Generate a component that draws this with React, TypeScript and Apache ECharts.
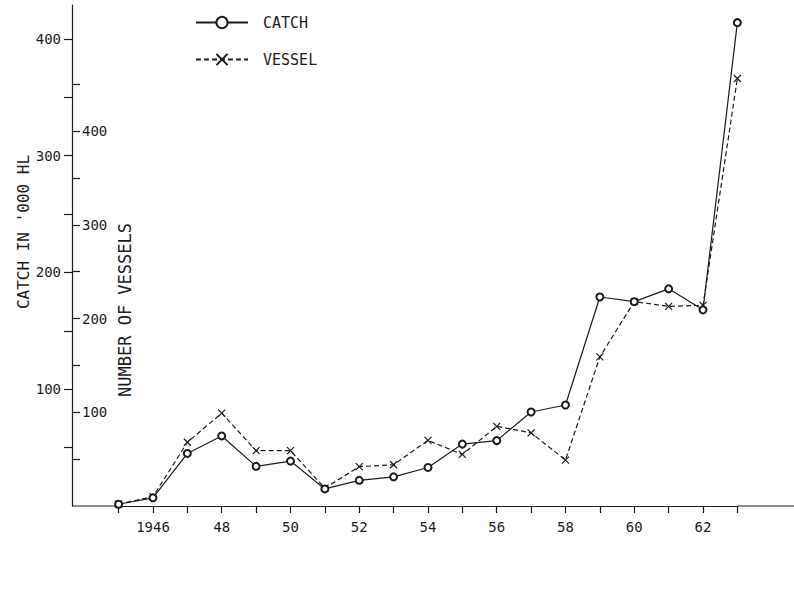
import React, { useEffect, useRef } from "react";
import * as echarts from "echarts";

const years = [1945, 1946, 1947, 1948, 1949, 1950, 1951, 1952, 1953, 1954, 1955, 1956, 1957, 1958, 1959, 1960, 1961, 1962, 1963];
const catchValues = [1.5, 7, 45, 60, 34, 38.5, 14.6, 22, 25, 33, 53, 56, 80.5, 86.5, 179, 175, 186, 168, 414];
const vesselValues = [2, 10, 68, 99, 59, 59, 19, 42, 44, 70, 55, 85, 78, 49, 159, 218, 213, 214, 456];

const xLabelValues = [1946, 1948, 1950, 1952, 1954, 1956, 1958, 1960, 1962];
const catchTicks = [50, 100, 150, 200, 250, 300, 350, 400];
const catchLabels = [100, 200, 300, 400];
const vesselTicks = [50, 100, 150, 200, 250, 300, 350, 400, 450];
const vesselLabels = [100, 200, 300, 400];

const INK = "#1c1c1c";
const FONT = "DejaVu Sans Mono";
// the original x axis runs a little past both ends of the 1945–1963 range drawn by the grid
const AXIS_X0 = 72;
const YEAR_PX = 34.375;
const X_MIN = 1945;
const X_MAX = 1963;
const PRE = (X_MIN - 1943.644) * YEAR_PX;
const GRID_RIGHT_EDGE = AXIS_X0 + PRE + (X_MAX - X_MIN) * YEAR_PX;

export default function App() {
  const ref = useRef<HTMLDivElement>(null);
  useEffect(() => {
    if (!ref.current) return;
    const chart = echarts.init(ref.current, null, { renderer: "svg" });
    chart.setOption({
      animation: false,
      backgroundColor: "#ffffff",
      textStyle: { fontFamily: FONT, color: INK },
      grid: { left: AXIS_X0 + PRE, right: 794 - GRID_RIGHT_EDGE, top: 5, bottom: 85 },
      legend: {
        orient: "vertical",
        left: 190,
        top: 10,
        itemWidth: 52,
        itemHeight: 14,
        itemGap: 22,
        textStyle: { fontFamily: FONT, fontSize: 15, color: INK, padding: [0, 0, 0, 10] },
        data: ["CATCH", "VESSEL"],
      },
      xAxis: {
        type: "value",
        min: X_MIN,
        max: X_MAX,
        interval: 1,
        axisLine: { show: true, lineStyle: { color: INK, width: 1.2 } },
        axisTick: { show: true, length: 7, lineStyle: { color: INK, width: 1.2 } },
        axisLabel: {
          customValues: xLabelValues,
          margin: 14,
          fontSize: 14,
          fontFamily: FONT,
          color: INK,
          formatter: (v: number) => (v === 1946 ? "1946" : String(v % 100)),
        },
        splitLine: { show: false },
      },
      yAxis: [
        {
          type: "value",
          position: "left",
          offset: PRE,
          min: 0,
          max: 429.1,
          axisLine: { show: true, lineStyle: { color: INK, width: 1.2 } },
          axisTick: { show: true, customValues: catchTicks, length: 8, lineStyle: { color: INK, width: 1.2 } },
          axisLabel: { customValues: catchLabels, margin: 11, fontSize: 14, fontFamily: FONT, color: INK },
          splitLine: { show: false },
        },
        {
          type: "value",
          position: "left",
          offset: PRE,
          min: 0,
          max: 534.4,
          axisLine: { show: false },
          axisTick: { show: true, inside: true, customValues: vesselTicks, length: 8, lineStyle: { color: INK, width: 1.2 } },
          axisLabel: { inside: true, customValues: vesselLabels, margin: 10, fontSize: 14, fontFamily: FONT, color: INK },
          splitLine: { show: false },
        },
      ],
      graphic: [
        {
          type: "line",
          shape: { x1: AXIS_X0, y1: 506, x2: AXIS_X0 + PRE, y2: 506 },
          style: { stroke: INK, lineWidth: 1.2 },
        },
        {
          type: "line",
          shape: { x1: GRID_RIGHT_EDGE, y1: 506, x2: 794, y2: 506 },
          style: { stroke: INK, lineWidth: 1.2 },
        },
        {
          type: "text",
          x: 23,
          y: 232,
          rotation: Math.PI / 2,
          style: {
            text: "CATCH IN '000 HL",
            fontFamily: FONT,
            fontSize: 16,
            fill: INK,
            align: "center",
            verticalAlign: "middle",
          },
        },
        {
          type: "text",
          x: 125,
          y: 310,
          rotation: Math.PI / 2,
          style: {
            text: "NUMBER OF VESSELS",
            fontFamily: FONT,
            fontSize: 17,
            fill: INK,
            align: "center",
            verticalAlign: "middle",
          },
        },
      ],
      series: [
        {
          name: "CATCH",
          type: "line",
          yAxisIndex: 0,
          clip: false,
          data: years.map((y, i) => [y, catchValues[i]]),
          symbol: "emptyCircle",
          symbolSize: 7,
          lineStyle: { color: INK, width: 1.2, type: "solid" },
          itemStyle: { color: INK, borderColor: INK, borderWidth: 1.1 },
          z: 3,
        },
        {
          name: "VESSEL",
          type: "line",
          yAxisIndex: 1,
          clip: false,
          data: years.map((y, i) => [y, vesselValues[i]]),
          symbol: "path://M0,0L10,10M10,0L0,10",
          symbolSize: 7,
          lineStyle: { color: INK, width: 1.2, type: [5, 3] },
          itemStyle: { color: INK, borderColor: INK, borderWidth: 1.2 },
          z: 2,
        },
      ],
    });
    return () => chart.dispose();
  }, []);
  return <div ref={ref} style={{ width: 794, height: 591, position: "absolute", left: 0, top: 0 }} />;
}
